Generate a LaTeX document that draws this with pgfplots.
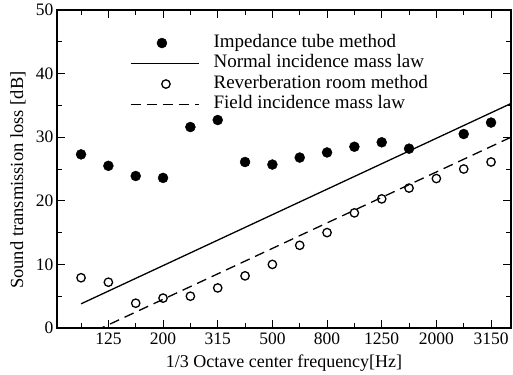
\documentclass[border=0pt]{standalone}
\usepackage{pgfplots}
\pgfplotsset{compat=1.18}
\usepackage{fontspec}
\setmainfont{Liberation Serif}

\pgfplotsset{
  lineleg/.style={legend image code/.code={\draw[##1] (0pt,0pt) -- (68pt,0pt);}},
  markleg/.style={legend image code/.code={\draw[##1] plot coordinates {(#1,0pt)};}},
}

\pgfplotstableread{
x y
0 27.3
1 25.5
2 23.9
3 23.6
4 31.6
5 32.7
6 26.1
7 25.7
8 26.8
9 27.6
10 28.5
11 29.2
12 28.2
14 30.5
15 32.3
}\impedance

\pgfplotstableread{
x y
0 7.9
1 7.2
2 3.9
3 4.7
4 5.0
5 6.3
6 8.2
7 10.0
8 13.0
9 15.0
10 18.1
11 20.3
12 22.0
13 23.5
14 25.0
15 26.1
}\reverb

\begin{document}
\begin{tikzpicture}
\begin{axis}[
  name=ax,
  scale only axis, width=454pt, height=318pt,
  xmin=-0.88, xmax=15.73, ymin=0, ymax=50,
  xtick={1,3,5,7,9,11,13,15},
  xticklabels={125,200,315,500,800,1250,2000,3150},
  minor xtick={0,2,4,6,8,10,12,14},
  ytick={0,10,20,30,40,50},
  minor ytick={5,15,25,35,45},
  tick align=inside,
  major tick length=8pt, minor tick length=5pt,
  every tick/.style={black, line width=1pt},
  axis line style={line width=1.6pt},
  ticklabel style={font=\fontsize{17.5}{20}\selectfont},
  xticklabel style={yshift=-1.3pt},
  /pgf/number format/assume math mode=true,
  xlabel={1/3 Octave center frequency[Hz]},
  ylabel={Sound transmission loss [dB]},
  xlabel style={font=\fontsize{18}{20}\selectfont, at={(axis description cs:0.5,0)}, anchor=center, yshift=-35pt},
  ylabel style={font=\fontsize{18.5}{20}\selectfont, at={(axis description cs:-0.086,0.465)}, anchor=center},
  clip mode=individual,
  legend cell align=left,
  legend style={at={(axis description cs:0.161,0.925)}, anchor=north west,
    draw=none, fill=none, inner sep=0pt,
    font=\fontsize{19}{21}\selectfont,
    nodes={inner sep=0pt, text height=13pt, text depth=5pt},
    row sep=2.5pt,
    /tikz/every odd column/.append style={column sep=14pt}},
]
\addplot[only marks, mark=*, mark size=5pt, black, markleg=31pt]
  table[x=x,y=y]{\impedance};
\addlegendentry{Impedance tube method}
\addplot[black, line width=1.3pt, mark=none, lineleg]
  coordinates {(0,3.8) (15.73,35.3)};
\addlegendentry{Normal incidence mass law}
\addplot[only marks, mark=o, mark size=4.2pt, black, mark options={line width=1.3pt}, markleg=35pt]
  table[x=x,y=y]{\reverb};
\addlegendentry{Reverberation room method}
\addplot[black, line width=1.3pt, mark=none, dash pattern=on 10pt off 6pt, lineleg]
  coordinates {(0,-1.5) (15.73,30.0)};
\addlegendentry{Field incidence mass law}
\end{axis}
\path (ax.south west) ++(-57pt,-46pt);
\path (ax.north east) ++(2pt,10pt);
\end{tikzpicture}
\end{document}
